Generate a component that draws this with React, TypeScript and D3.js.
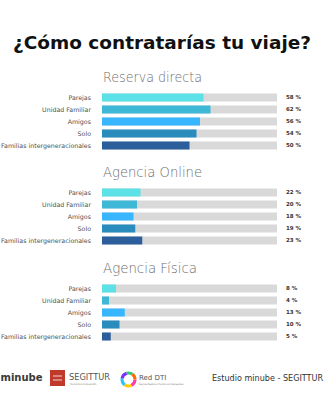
import React from "react";
import * as d3 from "d3";

const categories = ["Parejas", "Unidad Familiar", "Amigos", "Solo", "Familias intergeneracionales"];
const sectionTitles = ["Reserva directa", "Agencia Online", "Agencia Física"];
const reservaDirecta = [58, 62, 56, 54, 50];
const agenciaOnline = [22, 20, 18, 19, 23];
const agenciaFisica = [8, 4, 13, 10, 5];
const seriesList = [reservaDirecta, agenciaOnline, agenciaFisica];
const colors = ["#5ce1e6", "#3fb8d8", "#38b6ff", "#2a8bbd", "#2c5e9b"];

const W = 324;
const H = 400;
const sectionTop = [77, 172, 268];

export default function App() {
  const x = d3.scaleLinear().domain([0, 100]).range([102, 277]);
  const color = d3.scaleOrdinal<string, string>().domain(categories).range(colors);
  const font = "'DejaVu Sans', sans-serif";
  return (
    <svg width={W} height={H} style={{ position: "absolute", left: 0, top: 0, background: "#fff" }}>
      <text x={162} y={49} textAnchor="middle" fontFamily={font} fontWeight="bold" fontSize={18.5}
        fill="#111" textLength={298} lengthAdjust="spacingAndGlyphs">¿Cómo contratarías tu viaje?</text>
      {seriesList.map((vals, s) => {
        const yTitle = sectionTop[s];
        const y = d3.scaleBand<string>().domain(categories)
          .range([yTitle + 14.5, yTitle + 74.5]).paddingInner(1 / 3).paddingOuter(1 / 6);
        return (
          <g key={s}>
            <text x={103} y={yTitle + 5} fontFamily={font} fontWeight={300} fontSize={14}
              fill="#6e6e6e" textLength={s === 2 ? 94 : 99} lengthAdjust="spacingAndGlyphs">{sectionTitles[s]}</text>
            {categories.map((c, i) => {
              const yy = y(c)!;
              return (
                <g key={c}>
                  <text x={91} y={yy + y.bandwidth() / 2} dy="0.35em" textAnchor="end" fontFamily={font}
                    fontSize={6.3} fill="#505050">{c}</text>
                  <rect x={x(0)} y={yy} width={x(100) - x(0)} height={y.bandwidth()} fill="#d9d9d9" />
                  <rect x={x(0)} y={yy} width={x(vals[i]) - x(0)} height={y.bandwidth()} fill={color(c)} />
                  <text x={286} y={yy + y.bandwidth() / 2} dy="0.35em" fontFamily={font} fontWeight="bold"
                    fontSize={5.5} fill="#333">{vals[i]} %</text>
                </g>
              );
            })}
          </g>
        );
      })}
      {/* footer */}
      <text x={0.5} y={381} fontFamily={font} fontWeight="bold" fontSize={10} fill="#3a3a3a">minube</text>
      <rect x={50} y={370} width={15} height={16} fill="#c0392b" />
      <path d="M53 376 H62 M53 380 H62" stroke="#fff" strokeWidth={0.8} />
      <text x={69} y={380} fontFamily={font} fontSize={8} fill="#555" textLength={41} lengthAdjust="spacingAndGlyphs">SEGITTUR</text>
      <text x={70} y={385} fontFamily={font} fontSize={2.5} fill="#777">Turismo e innovación</text>
      <g transform="translate(128.5,379.5)">
        <circle r={6.5} fill="none" stroke="#ff3ea5" strokeWidth={3} strokeDasharray="7 34" />
        <circle r={6.5} fill="none" stroke="#ffcc00" strokeWidth={3} strokeDasharray="0 7 7 27" />
        <circle r={6.5} fill="none" stroke="#27c4f5" strokeWidth={3} strokeDasharray="0 14 7 20" />
        <circle r={6.5} fill="none" stroke="#7b2ff7" strokeWidth={3} strokeDasharray="0 21 7 13" />
        <circle r={6.5} fill="none" stroke="#2ecc71" strokeWidth={3} strokeDasharray="0 28 6 7" />
        <circle r={6.5} fill="none" stroke="#ff6a00" strokeWidth={3} strokeDasharray="0 34 7 0" />
      </g>
      <text x={139} y={380} fontFamily={font} fontSize={7} fill="#555">Red DTI</text>
      <text x={139} y={385} fontFamily={font} fontSize={2.3} fill="#777">Red de Destinos Turísticos Inteligentes</text>
      <text x={212} y={381} fontFamily={font} fontSize={8} fill="#333" textLength={111} lengthAdjust="spacingAndGlyphs">Estudio minube - SEGITTUR</text>
    </svg>
  );
}
